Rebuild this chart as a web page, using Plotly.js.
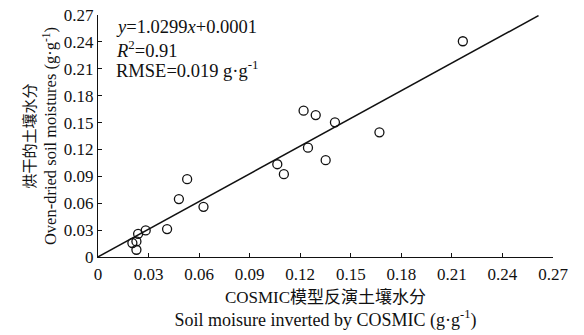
<!DOCTYPE html>
<html>
<head>
<meta charset="utf-8">
<script src="https://cdn.plot.ly/plotly-3.0.1.min.js"></script>
<style>html,body{margin:0;padding:0;background:#fff;}#chart{width:584px;height:335px;}</style>
</head>
<body>
<div id="chart"></div>
<script>
// COSMIC inverted soil moisture (x) vs oven-dried soil moisture (y), g·g^-1
const cosmicValues = [0.0204, 0.0228, 0.0228, 0.0238, 0.0283, 0.0410, 0.0480, 0.0529, 0.0626,
                      0.1064, 0.1103, 0.1220, 0.1246, 0.1292, 0.1351, 0.1406, 0.1670, 0.2165];
const ovenValues   = [0.0156, 0.0174, 0.0081, 0.0259, 0.0296, 0.0312, 0.0646, 0.0868, 0.0560,
                      0.1035, 0.0924, 0.1632, 0.1220, 0.1584, 0.1080, 0.1503, 0.1391, 0.2407];
const slope = 1.0299;
const intercept = 0.0001;
const fitX = [0, 0.2614];
const fitY = fitX.map(v => slope * v + intercept);
const tickVals = [0, 0.03, 0.06, 0.09, 0.12, 0.15, 0.18, 0.21, 0.24, 0.27];
const tickText = ["0", "0.03", "0.06", "0.09", "0.12", "0.15", "0.18", "0.21", "0.24", "0.27"];
const statLines = ["<i>y</i>=1.0299<i>x</i>+0.0001", "<i>R</i><sup>2</sup>=0.91", "RMSE=0.019 g·g<sup>-1</sup>"];
const xTitleCn = "COSMIC模型反演土壤水分";
const xTitleEn = "Soil moisure inverted by COSMIC (g·g<sup>-1</sup>)";
const yTitleCn = "烘干的土壤水分";
const yTitleEn = "Oven-dried soil moistures (g·g<sup>-1</sup>)";

const FONT = "'Liberation Serif', 'Times New Roman', 'Noto Sans CJK SC', serif";
const INK = '#111';

const traces = [
  {x: fitX, y: fitY, mode: 'lines', type: 'scatter', line: {color: INK, width: 1.5},
   hoverinfo: 'skip', cliponaxis: false},
  {x: cosmicValues, y: ovenValues, mode: 'markers', type: 'scatter',
   marker: {symbol: 'circle-open', size: 9, color: INK, line: {width: 1.3, color: INK}},
   cliponaxis: false}
];

const axisCommon = {
  range: [0, 0.27], tickvals: tickVals, ticktext: tickText,
  showgrid: false, zeroline: false, showline: true, linecolor: INK, linewidth: 1.2,
  ticks: 'inside', ticklen: 4, tickwidth: 1.2, tickcolor: INK,
  tickfont: {family: FONT, size: 17, color: INK}, mirror: false, fixedrange: true
};

const layout = {
  width: 584, height: 335,
  margin: {l: 98, r: 31, t: 15, b: 78},
  paper_bgcolor: '#fff', plot_bgcolor: '#fff',
  showlegend: false,
  font: {family: FONT, color: INK},
  xaxis: Object.assign({}, axisCommon, {
    ticklabelstandoff: 1,
    title: {text: '<span style="font-size:17px">' + xTitleCn + '</span><br>' + xTitleEn,
            font: {family: FONT, size: 18, color: INK}, standoff: 7}
  }),
  yaxis: Object.assign({}, axisCommon, {
    title: {text: '<span style="font-size:15px">' + yTitleCn + '</span><br>' + yTitleEn,
            font: {family: FONT, size: 16.5, color: INK}, standoff: 2}
  }),
  annotations: statLines.map((t, i) => ({
    text: t, xref: 'paper', yref: 'paper', x: 0.035, y: 1.0 - i * 0.082, xanchor: 'left', yanchor: 'top',
    showarrow: false, font: {family: FONT, size: 18.5, color: INK}, align: 'left'
  }))
};

Plotly.newPlot('chart', traces, layout, {staticPlot: true, displayModeBar: false});
</script>
</body>
</html>
